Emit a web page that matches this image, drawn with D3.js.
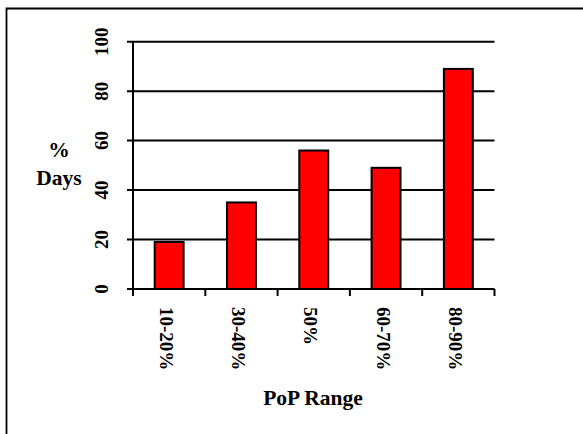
<!DOCTYPE html>
<html><head><meta charset="utf-8">
<script src="https://cdn.jsdelivr.net/npm/d3@7"></script>
<style>body{margin:0;background:#fff}svg{display:block}
text{font-family:"Liberation Serif","Times New Roman",Times,serif;font-weight:bold}</style>
</head><body>
<svg id="c" width="583" height="434"></svg>
<script>
const categories = ["10-20%", "30-40%", "50%", "60-70%", "80-90%"];
const values = [19, 35, 56, 49, 89];
const yTicks = [0, 20, 40, 60, 80, 100];

const svg = d3.select("#c");
const L = 133, R = 494.5, T = 41.7, B = 289;

// frame
svg.append("path").attr("d", `M6.5,440 V8.5 H590`).attr("fill","none").attr("stroke","#000").attr("stroke-width",1.8);

const x = d3.scaleBand().domain(categories).range([L, R]).paddingInner(0.6).paddingOuter(0.3);
const y = d3.scaleLinear().domain([0, 100]).range([B, T]);

// gridlines
svg.append("g").selectAll("line").data(yTicks).join("line")
  .attr("x1", L - 6).attr("x2", R).attr("y1", d => y(d)).attr("y2", d => y(d))
  .attr("stroke", "#000").attr("stroke-width", 2);

// bars
svg.append("g").selectAll("rect").data(values).join("rect")
  .attr("x", (d, i) => x(categories[i])).attr("width", x.bandwidth())
  .attr("y", d => y(d)).attr("height", d => y(0) - y(d))
  .attr("fill", "#ff0000").attr("stroke", "#000").attr("stroke-width", 2);

// y axis line
svg.append("line").attr("x1", L).attr("x2", L).attr("y1", T).attr("y2", B + 7)
  .attr("stroke", "#000").attr("stroke-width", 2);

// x category ticks
const step = (R - L) / categories.length;
const xt = d3.range(categories.length + 1).map(i => L + i * step);
svg.append("g").selectAll("line").data(xt).join("line")
  .attr("x1", d => d).attr("x2", d => d).attr("y1", B).attr("y2", B + 7)
  .attr("stroke", "#000").attr("stroke-width", 2);

// y tick labels (rotated)
svg.append("g").selectAll("text").data(yTicks).join("text")
  .attr("transform", d => `translate(108,${y(d)}) rotate(-90)`)
  .attr("text-anchor", "middle")
  .attr("font-size", 19)
  .text(d => d);

// x tick labels (rotated)
svg.append("g").selectAll("text").data(categories).join("text")
  .attr("transform", d => `translate(${x(d) + x.bandwidth() / 2 - 9.5},307) rotate(90)`)
  .attr("text-anchor", "start")
  .attr("font-size", 19)
  .text(d => d);

// y axis title
svg.append("text").attr("x", 59).attr("y", 157).attr("text-anchor", "middle")
  .attr("font-size", 21.5).text("%");
svg.append("text").attr("x", 59).attr("y", 185).attr("text-anchor", "middle")
  .attr("font-size", 21.5).text("Days");

// x axis title
svg.append("text").attr("x", 313).attr("y", 405).attr("text-anchor", "middle")
  .attr("font-size", 21.5).text("PoP Range");
</script>
</body></html>
